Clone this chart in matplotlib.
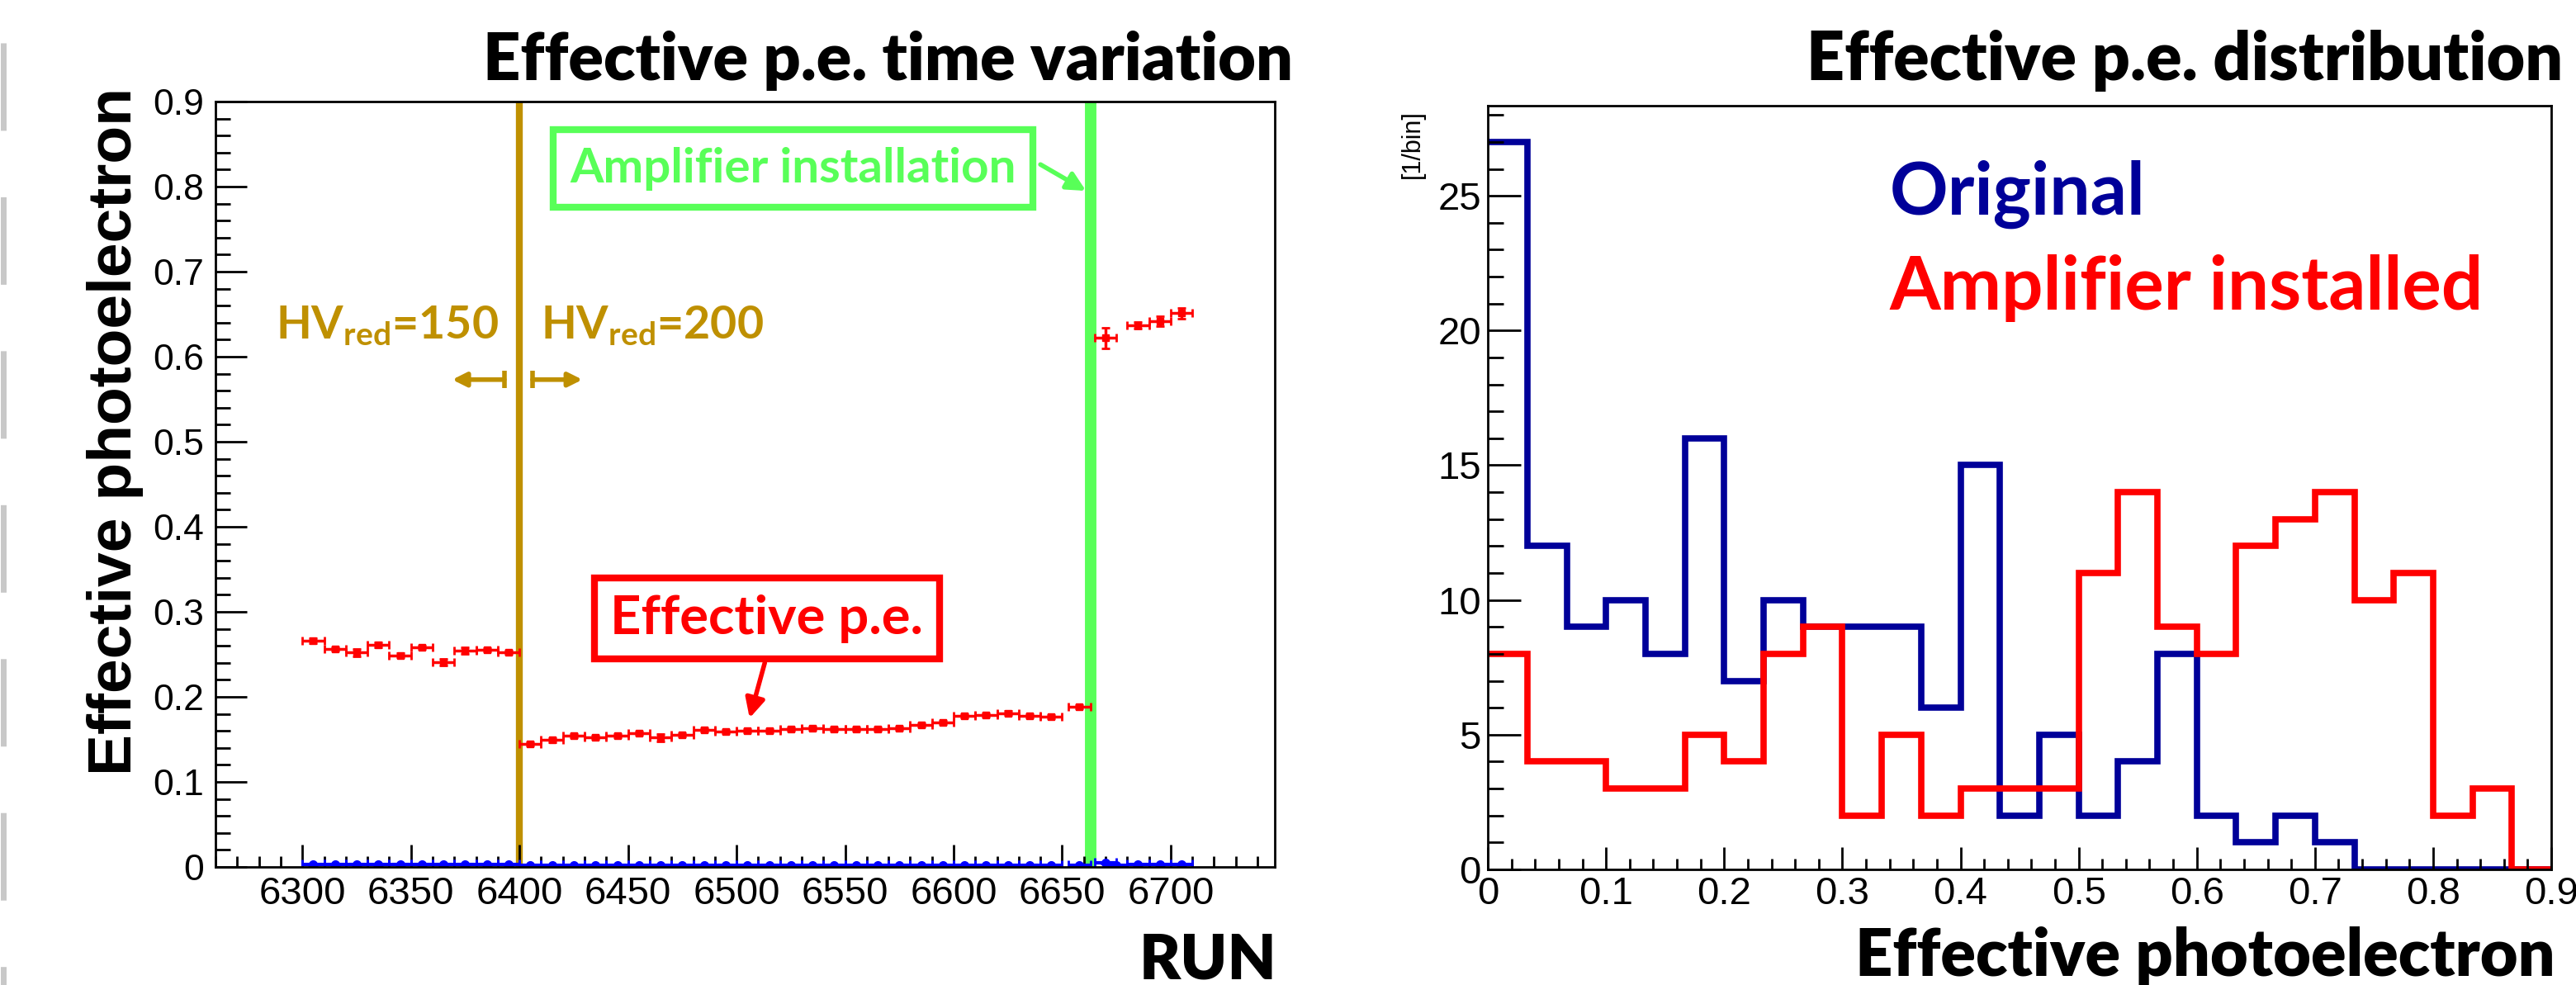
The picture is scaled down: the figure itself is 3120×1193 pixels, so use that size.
import matplotlib
matplotlib.use('Agg')
import matplotlib.pyplot as plt
from matplotlib.lines import Line2D
from matplotlib.ticker import MultipleLocator, FormatStrFormatter

plt.rcParams['font.family'] = ['Liberation Sans', 'DejaVu Sans']
plt.rcParams['mathtext.fontset'] = 'custom'
plt.rcParams['mathtext.rm'] = 'Lato:bold'
plt.rcParams['mathtext.default'] = 'rm'

BOLD = ['Lato', 'DejaVu Sans']
NARROW = ['Liberation Sans Narrow', 'Liberation Sans', 'DejaVu Sans']

# runs taken with HV_red = 150
runs_150 = [6305, 6315, 6325, 6335, 6345, 6355, 6365, 6375, 6385, 6395]
pe_150 = [0.266, 0.256, 0.252, 0.261, 0.249, 0.258, 0.241, 0.254, 0.255, 0.252]
err_150 = [0.003, 0.002, 0.004, 0.003, 0.002, 0.002, 0.004, 0.004, 0.002, 0.002]

# runs taken with HV_red = 200
runs_200 = [6405, 6415, 6425, 6435, 6445, 6455, 6465, 6475, 6485, 6495,
            6505, 6515, 6525, 6535, 6545, 6555, 6565, 6575, 6585, 6595,
            6605, 6615, 6625, 6635, 6645, 6658]
pe_200 = [0.145, 0.149, 0.154, 0.152, 0.154, 0.157, 0.152, 0.155, 0.161, 0.159,
          0.160, 0.160, 0.162, 0.163, 0.162, 0.162, 0.162, 0.163, 0.167, 0.170,
          0.178, 0.179, 0.181, 0.178, 0.177, 0.188]
err_200 = [0.002, 0.002, 0.002, 0.002, 0.002, 0.002, 0.004, 0.002, 0.002, 0.002,
           0.002, 0.002, 0.002, 0.002, 0.002, 0.002, 0.002, 0.002, 0.002, 0.002,
           0.002, 0.002, 0.002, 0.002, 0.002, 0.002]

# runs after the amplifier installation
runs_amp = [6670, 6685, 6695, 6705]
pe_amp = [0.622, 0.637, 0.642, 0.651]
err_amp = [0.012, 0.004, 0.006, 0.006]

# second (blue) series, sitting near zero
runs_blue = runs_150 + runs_200 + [6670, 6675, 6685, 6695, 6705]
val_blue = [0.003, 0.003, 0.003, 0.003, 0.003, 0.003, 0.003, 0.003, 0.003, 0.003,
            0.002, 0.002, 0.002, 0.002, 0.002, 0.002, 0.002, 0.002, 0.002, 0.002,
            0.002, 0.002, 0.002, 0.002, 0.002, 0.002, 0.002, 0.002, 0.002, 0.002,
            0.002, 0.002, 0.002, 0.002, 0.002, 0.002,
            0.005, 0.002, 0.003, 0.003, 0.003]

# effective p.e. distributions, 27 bins over [0, 0.9]
bin_edges = [i * 0.9 / 27 for i in range(28)]
counts_original = [27, 12, 9, 10, 8, 16, 7, 10, 9, 9, 9, 6, 15, 2, 5, 2, 4, 8,
                   2, 1, 2, 1, 0, 0, 0, 0, 0]
counts_amplifier = [8, 4, 4, 3, 3, 5, 4, 8, 9, 2, 5, 2, 3, 3, 3, 11, 14, 9,
                    8, 12, 13, 14, 10, 11, 2, 3, 0]

GOLD = '#bf9000'
GREEN = '#58ff58'
NAVY = '#000099'

fig = plt.figure(figsize=(31.2, 11.93), dpi=100)
ax1 = fig.add_axes([0.0837, 0.1199, 0.4112, 0.777])
ax2 = fig.add_axes([0.5776, 0.1174, 0.4128, 0.7754])

# ---- left: time variation ----
ax1.axvline(6400, color=GOLD, lw=6, zorder=1)
ax1.axvline(6663, color=GREEN, lw=10, zorder=1)

ax1.errorbar(runs_blue, val_blue, xerr=5, yerr=0.001, fmt='o', color='blue',
             ms=7, elinewidth=3, capsize=4, capthick=2, zorder=2)
for r, v, e in [(runs_150, pe_150, err_150), (runs_200, pe_200, err_200),
                (runs_amp, pe_amp, err_amp)]:
    ax1.errorbar(r, v, xerr=5, yerr=e, fmt='s', color='red', ms=6,
                 elinewidth=2.5, capsize=3.5, capthick=2, zorder=3)

ax1.set_xlim(6260, 6748)
ax1.set_ylim(0, 0.9)
ax1.xaxis.set_major_locator(MultipleLocator(50))
ax1.xaxis.set_minor_locator(MultipleLocator(10))
ax1.yaxis.set_major_locator(MultipleLocator(0.1))
ax1.yaxis.set_minor_locator(MultipleLocator(0.02))
ax1.yaxis.set_major_formatter(FormatStrFormatter('%g'))
ax1.tick_params(axis='both', which='both', direction='in', top=False, right=False,
                width=2)
ax1.tick_params(axis='y', which='major', length=27, pad=10, labelsize=32)
ax1.tick_params(axis='y', which='minor', length=13)
ax1.tick_params(axis='x', which='major', length=19.5, pad=8, labelsize=30)
ax1.tick_params(axis='x', which='minor', length=9.5)
for lab in ax1.get_xticklabels():
    lab.set_family(NARROW)
    lab.set_fontsize(34)

# annotations
ax1.text(6526, 0.821, 'Amplifier installation', color=GREEN, fontsize=42,
         family=BOLD, weight='bold', ha='center', va='center',
         bbox=dict(boxstyle='square,pad=0.35', fc='white', ec=GREEN, lw=6))
ax1.annotate('', xy=(6661, 0.795), xytext=(6640, 0.826),
             arrowprops=dict(arrowstyle='-|>', color=GREEN, lw=4, mutation_scale=34,
                             shrinkA=0, shrinkB=0))

ax1.text(6514, 0.292, 'Effective p.e.', color='red', fontsize=47,
         family=BOLD, weight='bold', ha='center', va='center',
         bbox=dict(boxstyle='square,pad=0.3', fc='white', ec='red', lw=6))
ax1.annotate('', xy=(6506, 0.175), xytext=(6513, 0.240),
             arrowprops=dict(arrowstyle='-|>', color='red', lw=4, mutation_scale=35,
                             shrinkA=0, shrinkB=0))

ax1.text(6339, 0.621, r'HV$_{red}$=150', color=GOLD, fontsize=40,
         family=BOLD, weight='bold', ha='center', va='baseline')
ax1.text(6461, 0.621, r'HV$_{red}$=200', color=GOLD, fontsize=40,
         family=BOLD, weight='bold', ha='center', va='baseline')
ax1.annotate('', xy=(6369, 0.573), xytext=(6393, 0.573),
             arrowprops=dict(arrowstyle='-|>', color=GOLD, lw=4, mutation_scale=25,
                             shrinkA=0, shrinkB=0))
ax1.annotate('', xy=(6429, 0.573), xytext=(6406, 0.573),
             arrowprops=dict(arrowstyle='-|>', color=GOLD, lw=4, mutation_scale=25,
                             shrinkA=0, shrinkB=0))
ax1.vlines([6393, 6406], 0.563, 0.583, color=GOLD, lw=4)

# ---- right: distribution ----
ax2.stairs(counts_original, bin_edges, baseline=None, color=NAVY, lw=5.5)
ax2.stairs(counts_amplifier, bin_edges, baseline=None, color='red', lw=5.5)
ax2.set_xlim(0, 0.9)
ax2.set_ylim(0, 28.35)
ax2.xaxis.set_major_locator(MultipleLocator(0.1))
ax2.xaxis.set_minor_locator(MultipleLocator(0.02))
ax2.yaxis.set_major_locator(MultipleLocator(5))
ax2.yaxis.set_minor_locator(MultipleLocator(1))
ax2.xaxis.set_major_formatter(FormatStrFormatter('%g'))
ax2.tick_params(axis='both', which='both', direction='in', top=False, right=False,
                labelsize=34, width=2)
ax2.tick_params(axis='y', which='major', length=29, pad=6)
ax2.tick_params(axis='y', which='minor', length=14)
ax2.tick_params(axis='x', which='major', length=19.5, pad=6)
ax2.tick_params(axis='x', which='minor', length=9.5)
for lab in ax2.get_xticklabels() + ax2.get_yticklabels():
    lab.set_family(NARROW)

ax2.text(0.378, 0.858, 'Original', transform=ax2.transAxes, color=NAVY,
         fontsize=63, family=BOLD, weight='bold', ha='left', va='baseline')
ax2.text(0.378, 0.733, 'Amplifier installed', transform=ax2.transAxes, color='red',
         fontsize=64, family=BOLD, weight='bold', ha='left', va='baseline')

for ax in (ax1, ax2):
    for s in ax.spines.values():
        s.set_linewidth(2)

# ---- figure texts ----
fig.text(1566 / 3120, 1 - 97 / 1193, 'Effective p.e. time variation', fontsize=57,
         family=BOLD, weight='heavy', ha='right', va='baseline')
fig.text(3104 / 3120, 1 - 97 / 1193, 'Effective p.e. distribution', fontsize=58,
         family=BOLD, weight='heavy', ha='right', va='baseline')
fig.text(1546 / 3120, 1 - 1186 / 1193, 'RUN', fontsize=55,
         family=BOLD, weight='heavy', ha='right', va='baseline')
fig.text(3095 / 3120, 1 - 1182 / 1193, 'Effective photoelectron', fontsize=57,
         family=BOLD, weight='heavy', ha='right', va='baseline')
fig.text(140 / 3120, 1 - 522 / 1193, 'Effective photoelectron', fontsize=54,
         family=NARROW, weight='bold', rotation=90, ha='center', va='center')
fig.text(1711 / 3120, 1 - 175 / 1193, '[1/bin]', fontsize=22,
         rotation=90, ha='center', va='center')

# slide edge marks on the far left
fig.add_artist(Line2D([0.0012, 0.0012], [1, 0], transform=fig.transFigure,
                      color='#c8c8c8', lw=5,
                      linestyle=(19.37, (15.26, 11.59))))

fig.savefig('out.png', dpi=100)
